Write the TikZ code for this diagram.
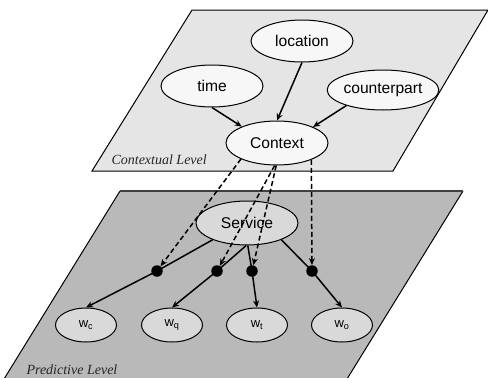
\documentclass[tikz,border=0pt]{standalone}
\usepackage{fontspec}
\setsansfont{Liberation Sans}
\newfontfamily\levelfont{Liberation Serif}
\usetikzlibrary{shapes.geometric,arrows.meta}

\begin{document}
\begin{tikzpicture}[x=1pt,y=-1pt,
  var/.style={ellipse,draw,line width=1pt,fill=gray!6,minimum width=102pt,minimum height=42pt,inner sep=0pt,font=\sffamily\fontsize{15.6}{18}\selectfont},
  wvar/.style={var,fill=gray!30,minimum width=61pt,minimum height=34pt,font=\sffamily\fontsize{13}{15}\selectfont},
  joint/.style={circle,fill=black,inner sep=0pt,minimum size=11.5pt},
  level/.style={anchor=base west,text=black!85,font=\levelfont\itshape\fontsize{14}{16}\selectfont},
  arr/.style={line width=1.5pt,-{Stealth[length=7pt,width=6pt]}},
  dep/.style={arr,dash pattern=on 5pt off 3pt}]
\useasboundingbox (0,0) rectangle (488,378);

% Planes
\fill[gray!55] (4,379) -- (120,191) -- (463,191) -- (347,379) -- cycle;
\draw[line width=1pt] (4,379) -- (120,191);
\draw[line width=1pt] (463,191) -- (347,379);
\draw[line width=2pt,black!75] (120,191) -- (463,191);
\draw[fill=gray!20,line width=1pt] (92,171) -- (192,10) -- (488,10) -- (393,171) -- cycle;

\node[level] (ctxlvl) at (108,164) {Contextual Level};
\node[level] (predlvl) at (23,374) {Predictive Level};

% Contextual level
\node[var] (location) at (302,41) {location};
\node[var] (time) at (212,86) {time};
\node[var,minimum height=40pt] (counterpart) at (383,90) {counterpart};
\node[var,minimum height=44pt] (context) at (277,143) {Context};

\draw[arr] (time.south) -- (context.155);
\draw[arr] (location.south) -- (context.north);
\draw[arr] (counterpart.203) -- (context.24);

% Predictive level
\node[var,fill=gray!30,minimum height=44pt] (service) at (247,223) {Service};

\node[joint] (jc) at (157,271) {};
\node[joint] (jq) at (217,271) {};
\node[joint] (jt) at (252,271) {};
\node[joint] (jo) at (312,271) {};

\node[wvar] (wc) at (86,325) {w\textsubscript{c}};
\node[wvar] (wq) at (172,325) {w\textsubscript{q}};
\node[wvar] (wt) at (257,325) {w\textsubscript{t}};
\node[wvar] (wo) at (342,325) {w\textsubscript{o}};

\draw[line width=1.5pt] (service.206) -- (jc.center);
\draw[line width=1.5pt] (service.268) -- (jq.center);
\draw[line width=1.5pt] (service.272) -- (jt.center);
\draw[line width=1.5pt] (service.334) -- (jo.center);

\draw[arr] (jc.center) -- (wc.north);
\draw[arr] (jq.center) -- (wq.north);
\draw[arr] (jt.center) -- (wt.north);
\draw[arr] (jo.center) -- (wo.north);

% Dependencies on the context
\draw[dep] (context.204) -- (jc);
\draw[dep] (context.264) -- (jq);
\draw[dep] (context.268) -- (jt);
\draw[dep] (context.334) -- (jo);

\end{tikzpicture}
\end{document}
